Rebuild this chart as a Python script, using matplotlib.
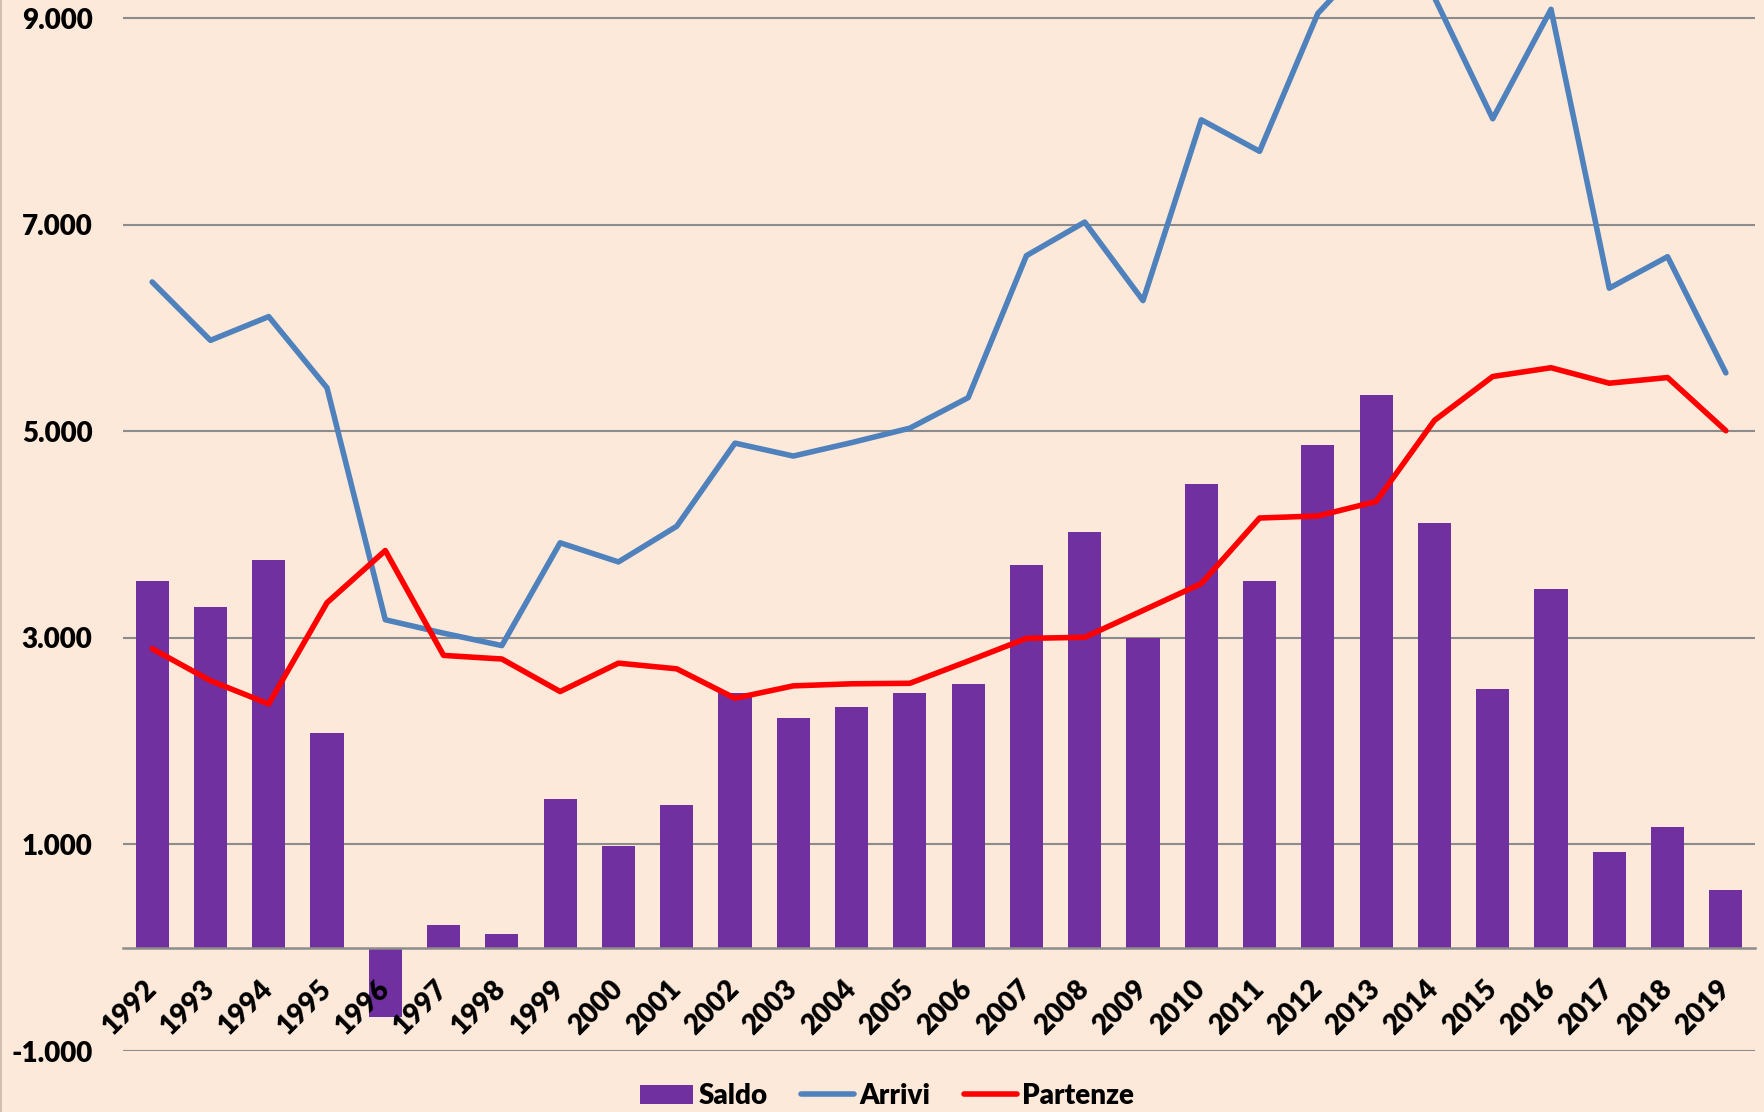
import numpy as np
import matplotlib
matplotlib.use("Agg")
import matplotlib.pyplot as plt
from matplotlib.lines import Line2D

years = ["1992", "1993", "1994", "1995", "1996", "1997", "1998", "1999", "2000", "2001",
         "2002", "2003", "2004", "2005", "2006", "2007", "2008", "2009", "2010", "2011",
         "2012", "2013", "2014", "2015", "2016", "2017", "2018", "2019"]
saldo = [3550, 3300, 3750, 2080, -670, 215, 130, 1440, 980, 1380,
         2470, 2225, 2335, 2470, 2550, 3705, 4020, 3000, 4490, 3550,
         4865, 5355, 4115, 2500, 3470, 925, 1170, 560]
arrivi = [6445, 5880, 6110, 5420, 3175, 3045, 2925, 3920, 3735, 4080,
          4885, 4760, 4890, 5030, 5325, 6700, 7025, 6265, 8015, 7710,
          9045, 9650, 9200, 8025, 9085, 6385, 6690, 5565]
partenze = [2895, 2585, 2360, 3340, 3845, 2830, 2795, 2480, 2755, 2700,
            2415, 2535, 2555, 2560, 2775, 2995, 3005, 3265, 3525, 4160,
            4180, 4320, 5105, 5530, 5615, 5465, 5520, 5005]
yticks = [-1000, 1000, 3000, 5000, 7000, 9000]

BG = "#FDE9D9"
PURPLE = "#7030A0"
BLUE = "#4F81BD"
RED = "#FF0000"
GRID = "#8C8C8C"
WEIGHT = 800

plt.rcParams["font.family"] = ["Lato", "DejaVu Sans"]
plt.rcParams["font.weight"] = WEIGHT

W, H = 1764, 1112
fig = plt.figure(figsize=(W / 100, H / 100), dpi=100)
fig.patch.set_facecolor(BG)
ax = fig.add_axes([123 / W, 61 / H, 1632 / W, 1051 / H])
ax.set_facecolor(BG)

x = np.arange(len(years))
bars = ax.bar(x, saldo, width=0.57, color=PURPLE, zorder=2, label="Saldo")
l1, = ax.plot(x, arrivi, color=BLUE, lw=4.0, solid_joinstyle="round",
              solid_capstyle="round", zorder=3, label="Arrivi")
l2, = ax.plot(x, partenze, color=RED, lw=4.0, solid_joinstyle="round",
              solid_capstyle="round", zorder=4, label="Partenze")

ax.set_xlim(-0.5, len(years) - 0.5)
ax.set_ylim(-1000, 9175)

ax.set_yticks(yticks)
ax.set_yticklabels([f"{v:,}".replace(",", ".") for v in yticks])
ax.yaxis.grid(True, color=GRID, lw=1.5)
ax.yaxis.set_zorder(0.5)
ax.xaxis.set_zorder(5)
ax.tick_params(axis="y", length=0, pad=22, labelsize=20, labelcolor="black")

for s in ["top", "right", "left"]:
    ax.spines[s].set_visible(False)
ax.spines["bottom"].set_position(("data", 0))
ax.spines["bottom"].set_color(GRID)
ax.spines["bottom"].set_linewidth(1.8)
ax.spines["bottom"].set_zorder(5)

ax.set_xticks(x)
ax.set_xticklabels(years, rotation=45, ha="right", va="center", rotation_mode="anchor")
ax.tick_params(axis="x", length=0, pad=27, labelsize=20, labelcolor="black")

for lbl in ax.get_yticklabels() + ax.get_xticklabels():
    lbl.set_fontweight(WEIGHT)

leg = fig.legend(handles=[bars, l1, l2], labels=["Saldo", "Arrivi", "Partenze"],
                 loc="center", bbox_to_anchor=(0.503, 16 / H), ncol=3, frameon=False,
                 handlelength=1.9, handletextpad=0.2, columnspacing=1.2,
                 prop={"weight": WEIGHT, "size": 20})

fig.add_artist(Line2D([0.6 / W, 0.6 / W], [0, 1], transform=fig.transFigure,
                      color="#C9B8A8", lw=1.2))

fig.savefig("out.png", dpi=100, facecolor=BG)
